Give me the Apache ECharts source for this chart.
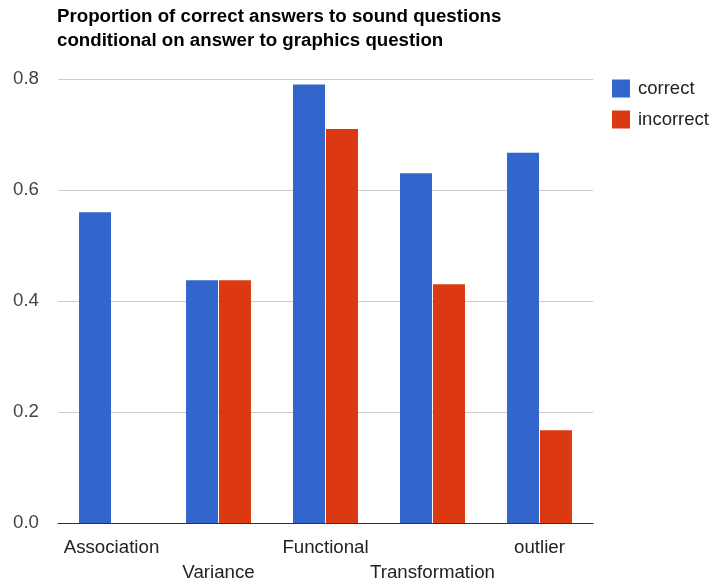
<!DOCTYPE html>
<html>
<head>
<meta charset="utf-8">
<script src="https://cdn.jsdelivr.net/npm/echarts@6/dist/echarts.min.js"></script>
<style>html,body{margin:0;padding:0;background:#fff;}#c{width:710px;height:582px;}</style>
</head>
<body>
<div id="c"></div>
<script>
var categories = ['Association', 'Variance', 'Functional', 'Transformation', 'outlier'];
var correctValues = [0.56, 0.4375, 0.79, 0.63, 0.667];
var incorrectValues = [0, 0.4375, 0.71, 0.43, 0.167];
var seriesNames = ['correct', 'incorrect'];
var titleText = 'Proportion of correct answers to sound questions\nconditional on answer to graphics question';

var FONT = 'Arial, "Liberation Sans", sans-serif';
var chart = echarts.init(document.getElementById('c'));
chart.setOption({
  animation: false,
  backgroundColor: '#ffffff',
  title: {
    text: titleText,
    left: 57,
    top: 5,
    padding: 0,
    textStyle: { fontFamily: FONT, fontSize: 18.7, fontWeight: 'bold', color: '#000', lineHeight: 24 }
  },
  legend: {
    orient: 'vertical',
    left: 612,
    top: 79,
    padding: 0,
    itemWidth: 18,
    itemHeight: 18,
    itemGap: 12,
    icon: 'rect',
    data: seriesNames,
    textStyle: { fontFamily: FONT, fontSize: 18.5, color: '#222', padding: [0, 0, 0, 3] }
  },
  grid: { left: 58, right: 117, top: 79, bottom: 59, containLabel: false, outerBoundsMode: 'none' },
  xAxis: {
    type: 'category',
    data: categories,
    axisTick: { show: false },
    axisLine: { lineStyle: { color: '#333', width: 1 } },
    axisLabel: {
      interval: 0,
      margin: 12,
      fontFamily: FONT,
      fontSize: 18.7,
      color: '#222',
      lineHeight: 25,
      formatter: function (v, i) { return i % 2 ? '\n' + v : v; }
    }
  },
  yAxis: {
    type: 'value',
    min: 0,
    max: 0.8,
    interval: 0.2,
    axisLine: { show: false },
    axisTick: { show: false },
    splitLine: { lineStyle: { color: '#cccccc', width: 1 } },
    axisLabel: {
      margin: 19,
      fontFamily: FONT,
      fontSize: 18.7,
      color: '#444',
      formatter: function (v) { return v.toFixed(1); }
    }
  },
  series: [
    {
      name: seriesNames[0],
      type: 'bar',
      data: correctValues,
      barWidth: 32,
      barGap: '3%',
      itemStyle: { color: '#3366cc' }
    },
    {
      name: seriesNames[1],
      type: 'bar',
      data: incorrectValues,
      barWidth: 32,
      barGap: '3%',
      itemStyle: { color: '#dc3912' }
    }
  ]
});
</script>
</body>
</html>
